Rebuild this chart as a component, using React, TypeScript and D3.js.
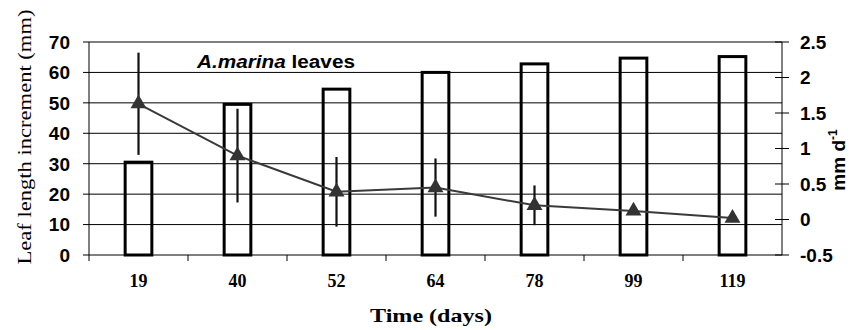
import { useEffect, useRef } from "react";
import * as d3 from "d3";

const DAYS = ["19", "40", "52", "64", "78", "99", "119"];
const INCREMENT = [31, 50, 55, 60.5, 63.3, 65.2, 65.7];
const RATE = [1.63, 0.9, 0.39, 0.45, 0.2, 0.12, 0.02];
const RATE_ERR = [0.72, 0.66, 0.49, 0.41, 0.28, 0.04, 0.03];
const LEFT_TICKS = [0, 10, 20, 30, 40, 50, 60, 70];
const RIGHT_TICKS = [-0.5, 0, 0.5, 1, 1.5, 2, 2.5];

const W = 849;
const H = 330;
const SANS = "'Liberation Sans', Arial, sans-serif";
const SERIF = "'Liberation Serif', 'Times New Roman', serif";

export default function App() {
  const svgRef = useRef<SVGSVGElement>(null);

  useEffect(() => {
    if (!svgRef.current) return;
    const m = { top: 42, right: 67, bottom: 75, left: 89 };
    const plotR = W - m.right;
    const plotB = H - m.bottom;

    const svg = d3.select(svgRef.current);
    svg.selectAll("*").remove();

    const x = d3.scaleBand().domain(DAYS).range([m.left, plotR]).padding(0);
    const yL = d3.scaleLinear().domain([0, 70]).range([plotB, m.top]);
    const yR = d3.scaleLinear().domain([-0.5, 2.5]).range([plotB, m.top]);
    const barW = x.step() * 0.3;
    const cx = (d: string) => (x(d) || 0) + x.bandwidth() / 2;

    // Grid
    svg.append("g")
      .selectAll("line")
      .data(LEFT_TICKS.filter((t) => t > 0))
      .join("line")
      .attr("x1", m.left - 6).attr("x2", plotR)
      .attr("y1", (d) => yL(d)).attr("y2", (d) => yL(d))
      .attr("stroke", "#000").attr("stroke-width", 1);

    // Left axis line + labels
    svg.append("line").attr("x1", m.left).attr("x2", m.left).attr("y1", m.top).attr("y2", plotB + 6)
      .attr("stroke", "#000");
    svg.append("line").attr("x1", m.left - 6).attr("x2", m.left).attr("y1", plotB).attr("y2", plotB)
      .attr("stroke", "#000");
    svg.append("g")
      .selectAll("text")
      .data(LEFT_TICKS)
      .join("text")
      .attr("x", 70).attr("y", (d) => yL(d)).attr("dy", "0.36em")
      .attr("text-anchor", "end")
      .style("font-family", SANS).style("font-weight", "bold").style("font-size", "19px")
      .text((d) => String(d));

    // Right axis
    svg.append("line").attr("x1", plotR).attr("x2", plotR).attr("y1", m.top).attr("y2", plotB)
      .attr("stroke", "#000");
    svg.append("g")
      .selectAll("line")
      .data(RIGHT_TICKS)
      .join("line")
      .attr("x1", plotR - 7).attr("x2", plotR + 7)
      .attr("y1", (d) => yR(d)).attr("y2", (d) => yR(d))
      .attr("stroke", "#000");
    svg.append("g")
      .selectAll("text")
      .data(RIGHT_TICKS)
      .join("text")
      .attr("x", 800).attr("y", (d) => yR(d)).attr("dy", "0.36em")
      .style("font-family", SANS).style("font-weight", "bold").style("font-size", "19px")
      .text((d) => String(d));

    // Bottom axis
    svg.append("line").attr("x1", m.left).attr("x2", plotR).attr("y1", plotB).attr("y2", plotB)
      .attr("stroke", "#000");
    svg.append("g")
      .selectAll("line")
      .data(DAYS.slice(1))
      .join("line")
      .attr("x1", (d) => x(d) || 0).attr("x2", (d) => x(d) || 0)
      .attr("y1", plotB).attr("y2", plotB + 6)
      .attr("stroke", "#000");
    svg.append("g")
      .selectAll("text")
      .data(DAYS)
      .join("text")
      .attr("x", cx).attr("y", 287)
      .attr("text-anchor", "middle")
      .style("font-family", SERIF).style("font-weight", "bold").style("font-size", "18px")
      .text((d) => d);

    // Bars
    svg.append("g")
      .selectAll("rect")
      .data(DAYS)
      .join("rect")
      .attr("x", (d) => cx(d) - barW / 2 + 1.5)
      .attr("width", barW - 3)
      .attr("y", (_, i) => yL(INCREMENT[i]) + 1.5)
      .attr("height", (_, i) => plotB - yL(INCREMENT[i]) - 1.5)
      .attr("fill", "none").attr("stroke", "#000").attr("stroke-width", 3);

    // Error bars
    svg.append("g")
      .selectAll("line")
      .data(DAYS)
      .join("line")
      .attr("x1", cx).attr("x2", cx)
      .attr("y1", (_, i) => yR(RATE[i] + RATE_ERR[i]))
      .attr("y2", (_, i) => yR(RATE[i] - RATE_ERR[i]))
      .attr("stroke", "#111").attr("stroke-width", 2.2);

    // Line
    const line = d3.line<string>().x(cx).y((_, i) => yR(RATE[i]));
    svg.append("path").datum(DAYS).attr("d", line)
      .attr("fill", "none").attr("stroke", "#3a3a3a").attr("stroke-width", 2);

    // Markers
    const tri = d3.symbol(d3.symbolTriangle, 110);
    svg.append("g")
      .selectAll("path")
      .data(DAYS)
      .join("path")
      .attr("transform", (d, i) => `translate(${cx(d)},${yR(RATE[i])})`)
      .attr("d", tri())
      .attr("fill", "#333");

    // Title
    const t = svg.append("text").attr("x", 197).attr("y", 68)
      .attr("textLength", 158).attr("lengthAdjust", "spacingAndGlyphs")
      .style("font-family", SANS).style("font-weight", "bold").style("font-size", "18px");
    t.append("tspan").style("font-style", "italic").text("A.marina");
    t.append("tspan").text(" leaves");

    // Axis titles
    svg.append("text")
      .attr("transform", `translate(31,${137}) rotate(-90)`)
      .attr("text-anchor", "middle")
      .attr("textLength", 255).attr("lengthAdjust", "spacingAndGlyphs")
      .style("font-family", SERIF).style("font-size", "18px")
      .text("Leaf length increment (mm)");

    svg.append("text")
      .attr("x", 431).attr("y", 322)
      .attr("text-anchor", "middle")
      .attr("textLength", 122).attr("lengthAdjust", "spacingAndGlyphs")
      .style("font-family", SERIF).style("font-weight", "bold").style("font-size", "19px")
      .text("Time (days)");

    const rt = svg.append("text")
      .attr("transform", `translate(845,160) rotate(-90)`)
      .attr("text-anchor", "middle")
      .style("font-family", SANS).style("font-weight", "bold").style("font-size", "19px");
    rt.append("tspan").text("mm d");
    rt.append("tspan").attr("dy", -8).style("font-size", "12px").text("-1");
  }, []);

  return (
    <svg
      ref={svgRef}
      width={W}
      height={H}
      style={{ position: "absolute", left: 0, top: 0, background: "#fff" }}
    />
  );
}
